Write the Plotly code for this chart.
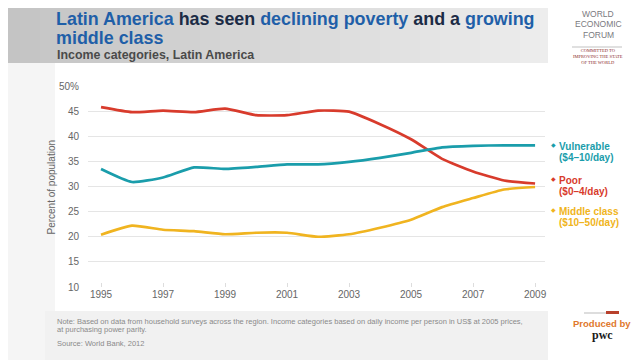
import plotly.graph_objects as go

years = list(range(1995, 2010))
poor = [45.8, 44.8, 45.1, 44.8, 45.5, 44.2, 44.2, 45.1, 44.9, 42.4, 39.4, 35.5, 33.0, 31.2, 30.6]
vulnerable = [33.5, 30.9, 31.8, 33.8, 33.5, 33.9, 34.4, 34.4, 34.9, 35.7, 36.7, 37.8, 38.1, 38.2, 38.2]
middle = [20.4, 22.2, 21.4, 21.1, 20.5, 20.8, 20.8, 20.0, 20.5, 21.8, 23.4, 25.9, 27.7, 29.4, 29.9]

ytick_vals = [10, 15, 20, 25, 30, 35, 40, 45, 50]
ytick_text = ["10", "15", "20", "25", "30", "35", "40", "45", "50%"]
xtick_vals = [1995, 1997, 1999, 2001, 2003, 2005, 2007, 2009]

RED = "#d83b2c"
TEAL = "#1a9dab"
YELLOW = "#f0b420"
BLUE = "#1f5fa8"
NAVY = "#1b2b45"

OFF = 8  # page body margin
W, H = 640 - OFF, 360 - OFF
L, R, T, B = 88 - OFF, 545 - OFF, 86 - OFF, 287 - OFF


def px(x):
    return (x - OFF - L) / (R - L)


def py(y):
    return (B - (y - OFF)) / (B - T)


fig = go.Figure()
for name, vals, col in [("Poor", poor, RED), ("Vulnerable", vulnerable, TEAL), ("Middle class", middle, YELLOW)]:
    fig.add_trace(go.Scatter(x=years, y=vals, mode="lines", name=name,
                             line=dict(color=col, width=2.7, shape="spline", smoothing=0.5),
                             hoverinfo="x+y"))

shapes = []
n = 32
for i in range(n):
    t = i / (n - 1)
    c = int(196 + (244 - 196) * t)
    shapes.append(dict(type="rect", xref="paper", yref="paper",
                       x0=px(i * 640 / n), x1=px((i + 1) * 640 / n + 1), y0=py(63), y1=py(0),
                       fillcolor=f"rgb({c},{c},{c})", line=dict(width=0), layer="below"))
shapes.append(dict(type="rect", xref="paper", yref="paper", x0=px(55), x1=px(548), y0=py(311), y1=py(63),
                   fillcolor="white", line=dict(width=0), layer="below"))
shapes.append(dict(type="rect", xref="paper", yref="paper", x0=px(548), x1=px(640), y0=py(360), y1=py(0),
                   fillcolor="white", line=dict(width=0), layer="below"))
shapes.append(dict(type="rect", xref="paper", yref="paper", x0=px(45), x1=px(548), y0=py(360), y1=py(311),
                   fillcolor="#f1f1f1", line=dict(width=0), layer="below"))
shapes.append(dict(type="rect", xref="paper", yref="paper", x0=px(584), x1=px(606), y0=py(313.5), y1=py(312.5),
                   fillcolor="#bbbbbb", line=dict(width=0)))
shapes.append(dict(type="rect", xref="paper", yref="paper", x0=px(606), x1=px(619), y0=py(314), y1=py(311),
                   fillcolor="#b8412c", line=dict(width=0)))
shapes.append(dict(type="line", xref="paper", yref="paper", x0=px(572), x1=px(622), y0=py(47), y1=py(47),
                   line=dict(color="#999999", width=0.6)))

ann = []


def add(text, x, y, size, color, bold=False, xanchor="left", yanchor="middle",
        family="Liberation Sans, Arial, sans-serif", align="left"):
    ann.append(dict(text=(f"<b>{text}</b>" if bold else text), x=px(x), y=py(y), xref="paper", yref="paper",
                    showarrow=False, xanchor=xanchor, yanchor=yanchor, align=align,
                    font=dict(size=size, color=color, family=family)))


title1 = (f"<span style='color:{BLUE}'>Latin America</span> has seen "
          f"<span style='color:{BLUE}'>declining poverty</span> and a "
          f"<span style='color:{BLUE}'>growing</span>")
add(title1, 54, 19, 17.9, NAVY, bold=True)
add(f"<span style='color:{BLUE}'>middle class</span>", 54, 38, 17.9, NAVY, bold=True)
add("Income categories, Latin America", 55, 55, 12.4, "#4a4a4a", bold=True)

ann.append(dict(text="Percent of population", x=px(43), y=py(187), xref="paper", yref="paper", showarrow=False,
                textangle=-90, font=dict(size=10, color="#666666", family="Liberation Sans, Arial, sans-serif")))

for lbl1, lbl2, col, yy in [("Vulnerable", "($4–10/day)", TEAL, 146),
                            ("Poor", "($0–4/day)", RED, 180),
                            ("Middle class", "($10–50/day)", YELLOW, 211)]:
    add("◆", 549, yy - 1, 6, col)
    add(lbl1, 557, yy, 10, col, bold=True)
    add(lbl2, 557, yy + 11, 10, col, bold=True)

add("Note: Based on data from household surveys across the region. Income categories based on daily income per person in US$ at 2005 prices,",
    55, 321, 7.5, "#8a8a8a")
add("at purchasing power parity.", 55, 329, 7.5, "#8a8a8a")
add("Source: World Bank, 2012", 55, 343, 7.5, "#8a8a8a")

add("WORLD", 598, 13.5, 8.5, "#7a7a80", xanchor="center")
add("ECONOMIC", 598, 24.5, 8.5, "#7a7a80", xanchor="center")
add("FORUM", 598, 35.5, 8.5, "#7a7a80", xanchor="center")
add("COMMITTED TO<br>IMPROVING THE STATE<br>OF THE WORLD", 598, 56, 4.5, "#8a2a2a", xanchor="center",
    family="Liberation Serif, serif", align="center")
add("Produced by", 602, 323, 9.5, "#e0782c", bold=True, xanchor="center")
add("pwc", 602, 335, 12, "#1a1a1a", bold=True, xanchor="center", family="Liberation Serif, serif")

fig.update_layout(
    width=W, height=H,
    margin=dict(l=L, r=W - R, t=T, b=H - B),
    paper_bgcolor="#f5f5f5", plot_bgcolor="white",
    showlegend=False,
    shapes=shapes, annotations=ann,
    font=dict(family="Liberation Sans, Arial, sans-serif", color="#666666", size=10),
    xaxis=dict(range=[1994.58, 2009.32], tickvals=xtick_vals, showgrid=False, zeroline=False,
               ticks="inside", ticklen=4, tickcolor="#dddddd", tickfont=dict(size=10, color="#666666"),
               showline=False, fixedrange=True),
    yaxis=dict(range=[10, 50], tickvals=ytick_vals, ticktext=ytick_text, showgrid=True, gridcolor="#e5e5e5",
               gridwidth=1, zeroline=False, ticks="", ticklabelstandoff=8,
               tickfont=dict(size=10, color="#666666"), fixedrange=True),
)

fig.write_html("out.html")
